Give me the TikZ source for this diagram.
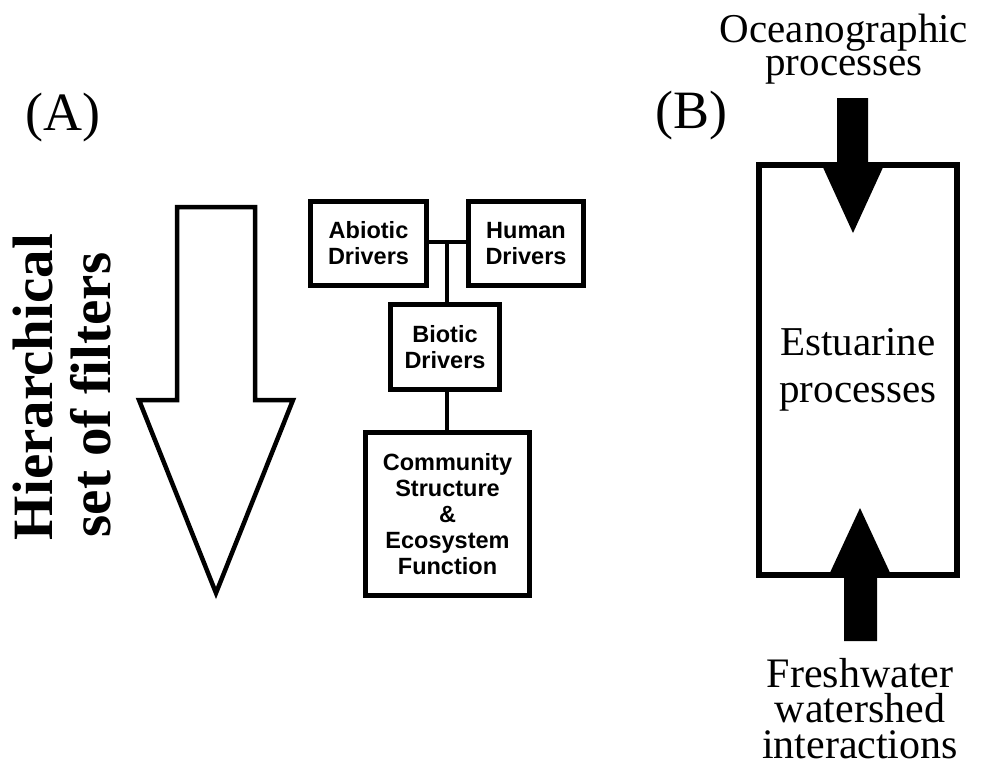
\documentclass[tikz,border=0pt]{standalone}
\usepackage{fontspec}
\setmainfont{Liberation Serif}
\setsansfont{Liberation Sans}
\begin{document}
\begin{tikzpicture}[x=1pt,y=-1pt,
  driverbox/.style={draw, line width=5pt, inner sep=0pt, align=center,
    font=\sffamily\bfseries\fontsize{23.5}{26}\selectfont},
  link/.style={line width=4.5pt},
  panel/.style={inner sep=0pt, font=\fontsize{54}{54}\selectfont},
  serifnote/.style={inner sep=0pt, align=center, anchor=base},
  sidetext/.style={inner sep=0pt, rotate=90, anchor=base,
    font=\bfseries\fontsize{57}{57}\selectfont},
  blockarrow/.style={fill=black}]
\useasboundingbox (0,0) rectangle (989,782);

% ---- panel A ----
\node[panel, anchor=base west] (labA) at (25,130) {(A)};
\node[sidetext] (hier) at (52,387) {Hierarchical};
\node[sidetext] (filt) at (110,395) {set of filters};

% hollow downward arrow
\draw[line width=4.5pt, line join=miter] (177,207) -- (255,207) -- (255,400)
  -- (293,400) -- (216,593) -- (139,400) -- (177,400) -- cycle;

\node[driverbox, minimum width=116pt, minimum height=84pt] (abiotic) at (368.5,243.5) {Abiotic\\Drivers};
\node[driverbox, minimum width=115pt, minimum height=84pt] (human) at (526,243.5) {Human\\Drivers};
\node[driverbox, minimum width=109pt, minimum height=85pt] (biotic) at (445,347) {Biotic\\Drivers};
\node[driverbox, minimum width=164pt, minimum height=163pt] (community) at (447.5,514)
  {Community\\Structure\\\&\\Ecosystem\\Function};

\coordinate (junction) at (447,242);
\draw[link] (abiotic.east |- junction) -- (human.west |- junction);
\draw[link] (junction) -- (junction |- biotic.north);
\draw[link] (biotic.south -| junction) -- (community.north -| junction);

% ---- panel B ----
\node[panel, anchor=base west] (labB) at (655,128) {(B)};
% multi-line nodes are anchored at the baseline of their last line
\node[serifnote, font=\fontsize{41}{33}\selectfont] (ocean) at (844,75) {Oceanographic\\processes};
\node[draw, line width=6pt, minimum width=198pt, minimum height=410pt, inner sep=0pt,
  align=center, font=\fontsize{41}{47}\selectfont] (estuary) at (858,370) {Estuarine\\processes};
\node[serifnote, font=\fontsize{42}{35.5}\selectfont] (fresh) at (860,758) {Freshwater\\watershed\\interactions};

% solid block arrows into the estuary box
\fill[blockarrow] (837,98) -- (868,98) -- (868,163) -- (885,163) -- (853,233)
  -- (821,163) -- (837,163) -- cycle;
\fill[blockarrow] (844,641) -- (877,641) -- (877,577) -- (892,577) -- (860,508)
  -- (828,577) -- (844,577) -- cycle;
\end{tikzpicture}
\end{document}
